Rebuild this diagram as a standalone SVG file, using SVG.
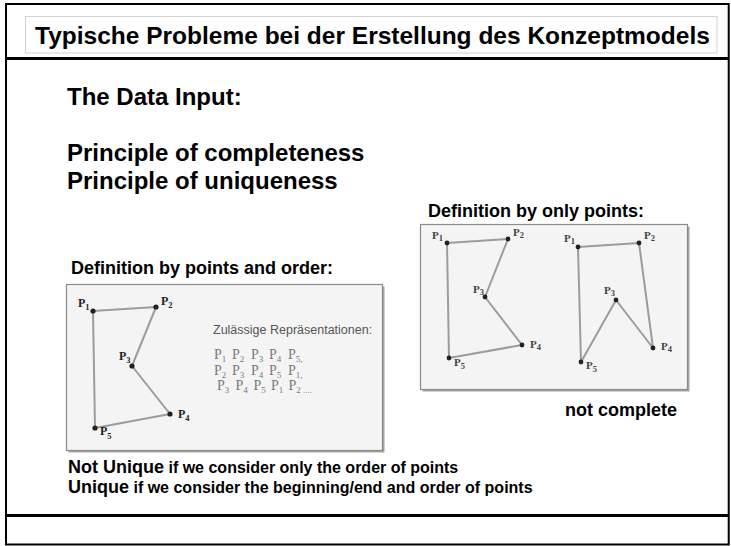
<svg xmlns="http://www.w3.org/2000/svg" width="731" height="546" viewBox="0 0 731 546">
  <style>
    .head { font-family: "Liberation Sans", Arial, sans-serif; font-weight: bold; fill: #000; }
    .frame { fill: none; stroke: #000; }
    .panel { fill: #f4f4f4; stroke: #8a8a8a; stroke-width: 1.2; }
    .shadow { fill: #a5a5a5; }
    .edge { stroke: #9c9c9c; stroke-width: 2; fill: none; stroke-linejoin: round; }
    .dot { fill: #222; }
    .lbl { font-family: "Liberation Serif", "Times New Roman", serif; font-weight: bold; font-size: 12px; fill: #222; }
    .lbl2 { font-family: "Liberation Serif", "Times New Roman", serif; font-weight: bold; font-size: 11px; fill: #444; }
    .sub { font-size: 8.5px; }
    .rep { font-family: "Liberation Serif", "Times New Roman", serif; font-size: 14px; fill: #7a7a7a; }
    .rsub { font-size: 9px; }
    .note { font-family: "Liberation Sans", Arial, sans-serif; font-size: 12.5px; fill: #555; }
  </style>

  <rect width="731" height="546" fill="#fff"/>

  <!-- slide frame -->
  <g id="frame">
    <rect class="frame" x="6" y="4" width="722.7" height="540.5" stroke-width="2"/>
    <line x1="6" y1="58.5" x2="728.7" y2="58.5" stroke="#000" stroke-width="3"/>
    <line x1="6" y1="515.5" x2="728.7" y2="515.5" stroke="#000" stroke-width="3"/>
  </g>

  <!-- title -->
  <g id="title">
    <rect x="25.5" y="16.5" width="691.5" height="36.5" fill="#fff" stroke="#d2d2d2" stroke-width="1"/>
    <text class="head" x="35" y="44" font-size="24.5">Typische Probleme bei der Erstellung des Konzeptmodels</text>
  </g>

  <!-- headings -->
  <g id="intro">
    <text class="head" x="67" y="105" font-size="24">The Data Input:</text>
    <text class="head" x="67" y="160.5" font-size="24">Principle of completeness</text>
    <text class="head" x="67" y="188.5" font-size="24">Principle of uniqueness</text>
  </g>

  <!-- left panel: points and order -->
  <g id="panel-order">
    <text class="head" x="71" y="274" font-size="18">Definition by points and order:</text>
    <rect class="shadow" x="68.5" y="286.5" width="316" height="166"/>
    <rect class="panel" x="66.5" y="284.5" width="316" height="166"/>
    <g id="poly-order">
      <polygon class="edge" points="93,311 156,307 132,366 170,414 95,428"/>
      <circle class="dot" cx="93" cy="311" r="2.6"/>
      <circle class="dot" cx="156" cy="307" r="2.6"/>
      <circle class="dot" cx="132" cy="366" r="2.6"/>
      <circle class="dot" cx="170" cy="414" r="2.6"/>
      <circle class="dot" cx="95" cy="428" r="2.6"/>
      <text class="lbl" x="78" y="307">P<tspan class="sub" dy="3">1</tspan></text>
      <text class="lbl" x="161" y="305">P<tspan class="sub" dy="3">2</tspan></text>
      <text class="lbl" x="119" y="360">P<tspan class="sub" dy="3">3</tspan></text>
      <text class="lbl" x="178" y="418">P<tspan class="sub" dy="3">4</tspan></text>
      <text class="lbl" x="100" y="435">P<tspan class="sub" dy="4">5</tspan></text>
    </g>
    <text class="note" x="213" y="334">Zulässige Repräsentationen:</text>
    <text class="rep" y="359"><tspan x="214">P</tspan><tspan class="rsub" dy="3">1</tspan><tspan x="232" dy="-3">P</tspan><tspan class="rsub" dy="3">2</tspan><tspan x="251" dy="-3">P</tspan><tspan class="rsub" dy="3">3</tspan><tspan x="269" dy="-3">P</tspan><tspan class="rsub" dy="3">4</tspan><tspan x="288" dy="-3">P</tspan><tspan class="rsub" dy="3">5,</tspan></text>
    <text class="rep" y="374.5"><tspan x="214">P</tspan><tspan class="rsub" dy="3">2</tspan><tspan x="232" dy="-3">P</tspan><tspan class="rsub" dy="3">3</tspan><tspan x="251" dy="-3">P</tspan><tspan class="rsub" dy="3">4</tspan><tspan x="269" dy="-3">P</tspan><tspan class="rsub" dy="3">5</tspan><tspan x="288" dy="-3">P</tspan><tspan class="rsub" dy="3">1,</tspan></text>
    <text class="rep" y="390"><tspan x="217">P</tspan><tspan class="rsub" dy="3">3</tspan><tspan x="235.5" dy="-3">P</tspan><tspan class="rsub" dy="3">4</tspan><tspan x="253.5" dy="-3">P</tspan><tspan class="rsub" dy="3">5</tspan><tspan x="271" dy="-3">P</tspan><tspan class="rsub" dy="3">1</tspan><tspan x="288.5" dy="-3">P</tspan><tspan class="rsub" dy="3">2 ....</tspan></text>
  </g>

  <!-- right panel: points only -->
  <g id="panel-points">
    <text class="head" x="428" y="217" font-size="18">Definition by only points:</text>
    <rect class="shadow" x="422.5" y="226.5" width="267" height="165"/>
    <rect class="panel" x="420.5" y="224.5" width="267" height="165"/>
    <g id="poly-a">
      <polygon class="edge" points="447,243 508,239 485,297 522,345 449,358"/>
      <circle class="dot" cx="447" cy="243" r="2.4"/>
      <circle class="dot" cx="508" cy="239" r="2.4"/>
      <circle class="dot" cx="485" cy="297" r="2.4"/>
      <circle class="dot" cx="522" cy="345" r="2.4"/>
      <circle class="dot" cx="449" cy="358" r="2.4"/>
      <text class="lbl2" x="432" y="239">P<tspan class="sub" dy="2">1</tspan></text>
      <text class="lbl2" x="513" y="236">P<tspan class="sub" dy="2">2</tspan></text>
      <text class="lbl2" x="473" y="292.5">P<tspan class="sub" dy="2">3</tspan></text>
      <text class="lbl2" x="530" y="347.5">P<tspan class="sub" dy="2">4</tspan></text>
      <text class="lbl2" x="454" y="365.5">P<tspan class="sub" dy="3">5</tspan></text>
    </g>
    <g id="poly-b">
      <polygon class="edge" points="578,247 639,243 653,348 616,300 581,362"/>
      <circle class="dot" cx="578" cy="247" r="2.4"/>
      <circle class="dot" cx="639" cy="243" r="2.4"/>
      <circle class="dot" cx="616" cy="300" r="2.4"/>
      <circle class="dot" cx="653" cy="348" r="2.4"/>
      <circle class="dot" cx="581" cy="362" r="2.4"/>
      <text class="lbl2" x="564" y="241.5">P<tspan class="sub" dy="2">1</tspan></text>
      <text class="lbl2" x="644" y="238.5">P<tspan class="sub" dy="2">2</tspan></text>
      <text class="lbl2" x="604" y="294">P<tspan class="sub" dy="2">3</tspan></text>
      <text class="lbl2" x="661" y="350">P<tspan class="sub" dy="2">4</tspan></text>
      <text class="lbl2" x="586" y="368.5">P<tspan class="sub" dy="3">5</tspan></text>
    </g>
    <text class="head" x="565" y="416" font-size="18">not complete</text>
  </g>

  <!-- uniqueness notes -->
  <g id="notes">
    <text class="head" x="68" y="473" font-size="18">Not Unique<tspan font-size="16"> if we consider only the order of points</tspan></text>
    <text class="head" x="68" y="493" font-size="18">Unique<tspan font-size="16"> if we consider the beginning/end and order of points</tspan></text>
  </g>
</svg>
